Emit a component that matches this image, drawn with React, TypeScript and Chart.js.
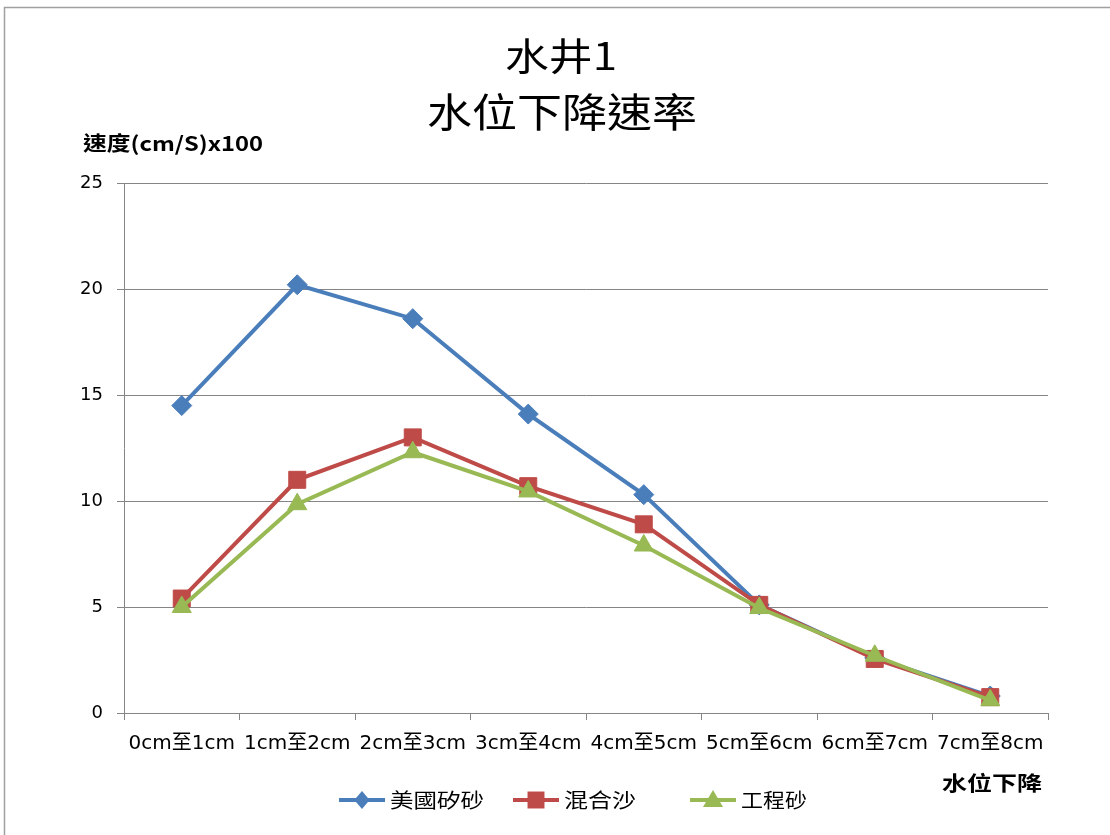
import React, { useEffect, useRef } from "react";
import { Chart, registerables } from "chart.js";

Chart.register(...registerables);

const categories = ["0cm至1cm", "1cm至2cm", "2cm至3cm", "3cm至4cm", "4cm至5cm", "5cm至6cm", "6cm至7cm", "7cm至8cm"];
const usSand = [14.5, 20.2, 18.6, 14.1, 10.3, 5.1, 2.6, 0.8];
const mixedSand = [5.4, 11.0, 13.0, 10.7, 8.9, 5.1, 2.55, 0.75];
const engSand = [5.0, 9.85, 12.3, 10.45, 7.9, 4.95, 2.7, 0.6];
const seriesNames = ["美國矽砂", "混合沙", "工程砂"];
const titleLines = ["水井1", "水位下降速率"];
const yAxisTitle = "速度(cm/S)x100";
const xAxisTitle = "水位下降";

const BLUE = "#4A7EBB";
const RED = "#BE4B48";
const GREEN = "#98B954";
const GRID = "#858585";
const CJK = '"Noto Sans CJK TC", "Noto Sans", sans-serif';

function fitText(ctx: CanvasRenderingContext2D, text: string, x: number, y: number, font: string, width: number, align: "left" | "center") {
  ctx.save();
  ctx.font = font;
  const m = ctx.measureText(text).width;
  const s = width / m;
  ctx.textBaseline = "middle";
  ctx.textAlign = "left";
  const left = align === "center" ? x - width / 2 : x;
  ctx.translate(left, y);
  ctx.scale(s, 1);
  ctx.fillStyle = "#000";
  ctx.fillText(text, 0, 0);
  ctx.restore();
}

function drawMarker(ctx: CanvasRenderingContext2D, style: string, r: number, x: number, y: number) {
  ctx.beginPath();
  if (style === "rectRot") {
    ctx.moveTo(x, y - r);
    ctx.lineTo(x + r * 0.85, y);
    ctx.lineTo(x, y + r);
    ctx.lineTo(x - r * 0.85, y);
    ctx.closePath();
  } else if (style === "rect") {
    const s = r * Math.SQRT1_2;
    ctx.rect(x - s, y - s, 2 * s, 2 * s);
  } else {
    ctx.moveTo(x, y - r);
    ctx.lineTo(x + r, y + r * 0.7);
    ctx.lineTo(x - r, y + r * 0.7);
    ctx.closePath();
  }
  ctx.fill();
}

const decorPlugin = {
  id: "decor",
  afterDraw(chart: any) {
    const ctx: CanvasRenderingContext2D = chart.ctx;
    ctx.save();
    ctx.strokeStyle = "#A0A0A0";
    ctx.lineWidth = 1.5;
    ctx.beginPath();
    ctx.moveTo(4.5, 835);
    ctx.lineTo(4.5, 7.5);
    ctx.lineTo(1110, 7.5);
    ctx.stroke();
    ctx.restore();
    fitText(ctx, titleLines[0], 561, 56, `38px ${CJK}`, 112, "center");
    fitText(ctx, titleLines[1], 562, 112, `40px ${CJK}`, 270, "center");
    fitText(ctx, yAxisTitle, 83, 143, `bold 20px ${CJK}`, 180, "left");
    fitText(ctx, xAxisTitle, 942, 783, `bold 20px ${CJK}`, 100, "left");
    const items = [
      { x: 339, color: BLUE, style: "rectRot", r: 9, tw: 94 },
      { x: 513, color: RED, style: "rect", r: 12, tw: 72 },
      { x: 690, color: GREEN, style: "triangle", r: 10, tw: 66 },
    ];
    const ly = 800;
    items.forEach((it, i) => {
      ctx.save();
      ctx.strokeStyle = it.color;
      ctx.lineWidth = 4;
      ctx.beginPath();
      ctx.moveTo(it.x, ly);
      ctx.lineTo(it.x + 46, ly);
      ctx.stroke();
      ctx.fillStyle = it.color;
      drawMarker(ctx, it.style, it.r, it.x + 23, ly);
      ctx.restore();
      fitText(ctx, seriesNames[i], it.x + 51, ly, `20px ${CJK}`, it.tw, "left");
    });
  },
};

export default function App() {
  const ref = useRef<HTMLCanvasElement>(null);
  useEffect(() => {
    document.body.style.margin = "0";
    const chart = new Chart(ref.current!, {
      type: "line",
      data: {
        labels: categories,
        datasets: [
          { label: seriesNames[0], data: usSand, borderColor: BLUE, backgroundColor: BLUE, borderWidth: 4, pointStyle: "rectRot", pointRadius: 10, pointBorderWidth: 1, order: 3 },
          { label: seriesNames[1], data: mixedSand, borderColor: RED, backgroundColor: RED, borderWidth: 4, pointStyle: "rect", pointRadius: 12, pointBorderWidth: 1, order: 2 },
          { label: seriesNames[2], data: engSand, borderColor: GREEN, backgroundColor: GREEN, borderWidth: 4, pointStyle: "triangle", pointRadius: 11, pointBorderWidth: 1, order: 1 },
        ],
      },
      options: {
        animation: false,
        responsive: false,
        maintainAspectRatio: false,
        layout: { padding: { top: 183, right: 62, left: 0, bottom: 0 } },
        plugins: { legend: { display: false }, title: { display: false }, tooltip: { enabled: false } },
        scales: {
          x: {
            type: "category",
            offset: true,
            grid: { display: true, drawOnChartArea: false, drawTicks: true, tickLength: 7, color: GRID, offset: true },
            border: { color: GRID, width: 1 },
            ticks: { autoSkip: false, maxRotation: 0, minRotation: 0, padding: 12, color: "#000", font: { family: '"DejaVu Sans", "Noto Sans CJK TC", sans-serif', size: 20 } },
            afterFit: (s: any) => { s.height = 122; },
          },
          y: {
            min: 0,
            max: 25,
            ticks: { stepSize: 5, padding: 14, color: "#000", font: { family: '"DejaVu Sans", sans-serif', size: 18 } },
            grid: { color: GRID, lineWidth: 1, tickLength: 7, drawTicks: true },
            border: { color: GRID, width: 1 },
            afterFit: (s: any) => { s.width = 124; },
          },
        },
      },
      plugins: [decorPlugin],
    });
    return () => chart.destroy();
  }, []);
  return (
    <div style={{ width: 1110, height: 835, background: "#fff" }}>
      <canvas ref={ref} width={1110} height={835} style={{ display: "block" }} />
    </div>
  );
}
